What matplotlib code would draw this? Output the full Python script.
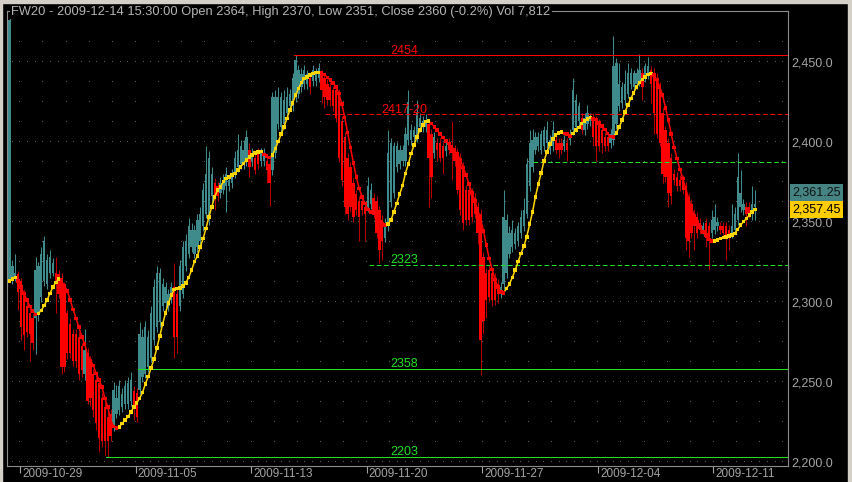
import matplotlib
matplotlib.use('Agg')
import matplotlib.pyplot as plt
import matplotlib.transforms as mtransforms
from matplotlib.collections import LineCollection
from matplotlib.patches import Rectangle
import numpy as np

plt.rcParams['font.family'] = ['Liberation Sans', 'DejaVu Sans']

# hourly bars, 8 per session (first session partial)
opens = [2314, 2313, 2315, 2317,
         2313, 2305, 2297, 2293, 2290, 2290, 2292, 2303,
         2313, 2311, 2318, 2318, 2318, 2317, 2315, 2309,
         2293, 2286, 2280, 2280, 2278, 2272, 2255, 2268,
         2263, 2255, 2251, 2249, 2240, 2234, 2228, 2230,
         2222, 2230, 2232, 2234, 2236, 2236, 2238, 2244,
         2243, 2245, 2253, 2255, 2259, 2265, 2276, 2284,
         2287, 2297, 2299, 2297, 2301, 2309, 2305, 2297,
         2305, 2322, 2330, 2334, 2330, 2334, 2338, 2347,
         2355, 2351, 2366, 2374, 2372, 2368, 2370, 2372,
         2372, 2374, 2380, 2384, 2386, 2386, 2388, 2395,
         2388, 2390, 2393, 2388, 2388, 2388, 2386, 2382,
         2393, 2411, 2409, 2411, 2418, 2422, 2422, 2428,
         2430, 2434, 2436, 2436, 2440, 2438, 2438, 2440,
         2442, 2440, 2436, 2434, 2432, 2432, 2430, 2413,
         2403, 2390, 2384, 2374, 2367, 2363, 2363, 2359,
         2359, 2361, 2365, 2363, 2357, 2351, 2340, 2347,
         2362, 2368, 2384, 2386, 2388, 2388, 2401, 2401,
         2403, 2403, 2409, 2409, 2409, 2411, 2405, 2393,
         2399, 2399, 2397, 2394, 2399, 2397, 2395, 2393,
         2390, 2384, 2370, 2370, 2368, 2365, 2359, 2355,
         2328, 2318, 2320, 2318, 2315, 2311, 2305, 2311,
         2318, 2330, 2334, 2336, 2338, 2343, 2347, 2355,
         2372, 2384, 2395, 2397, 2395, 2397, 2399, 2395,
         2397, 2401, 2399, 2399, 2397, 2399, 2401, 2407,
         2409, 2413, 2415, 2407, 2411, 2413, 2415, 2413,
         2411, 2407, 2403, 2403, 2399, 2401, 2411, 2422,
         2424, 2426, 2430, 2436, 2434, 2436, 2438, 2443,
         2440, 2442, 2445, 2443, 2440, 2434, 2418, 2407,
         2399, 2390, 2380, 2378, 2376, 2376, 2372, 2365,
         2361, 2355, 2353, 2349, 2345, 2349, 2347, 2343,
         2345, 2347, 2347, 2347, 2347, 2345, 2343, 2345,
         2351, 2359, 2357, 2359, 2359, 2357, 2359]

highs = [2480, 2326, 2330, 2319,
         2315, 2307, 2299, 2296, 2292, 2328, 2325, 2334,
         2341, 2330, 2332, 2327, 2328, 2320, 2318, 2312,
         2295, 2289, 2283, 2283, 2281, 2274, 2283, 2271,
         2266, 2258, 2254, 2252, 2243, 2237, 2231, 2233,
         2250, 2248, 2251, 2246, 2251, 2253, 2256, 2247,
         2246, 2287, 2283, 2288, 2282, 2297, 2314, 2322,
         2321, 2315, 2312, 2308, 2312, 2324, 2308, 2326,
         2338, 2342, 2352, 2349, 2348, 2355, 2359, 2374,
         2397, 2394, 2384, 2377, 2375, 2378, 2380, 2384,
         2379, 2383, 2394, 2405, 2401, 2401, 2407, 2399,
         2396, 2393, 2396, 2396, 2396, 2391, 2389, 2431,
         2432, 2434, 2431, 2432, 2434, 2433, 2443, 2454,
         2448, 2446, 2448, 2445, 2443, 2448, 2446, 2449,
         2445, 2443, 2439, 2437, 2435, 2435, 2433, 2416,
         2406, 2393, 2387, 2377, 2370, 2366, 2366, 2362,
         2378, 2374, 2368, 2366, 2360, 2354, 2352, 2407,
         2402, 2400, 2400, 2398, 2398, 2409, 2432, 2411,
         2410, 2426, 2418, 2416, 2417, 2414, 2408, 2406,
         2402, 2402, 2400, 2400, 2402, 2413, 2398, 2396,
         2393, 2387, 2373, 2373, 2371, 2368, 2362, 2358,
         2331, 2321, 2323, 2321, 2318, 2314, 2312, 2370,
         2355, 2347, 2351, 2346, 2350, 2357, 2365, 2390,
         2407, 2408, 2406, 2406, 2407, 2410, 2413, 2404,
         2413, 2404, 2402, 2402, 2404, 2402, 2408, 2440,
         2430, 2425, 2418, 2418, 2423, 2418, 2418, 2416,
         2414, 2410, 2406, 2406, 2408, 2466, 2452, 2449,
         2437, 2445, 2449, 2446, 2445, 2446, 2455, 2446,
         2449, 2453, 2447, 2446, 2443, 2437, 2421, 2410,
         2402, 2393, 2383, 2381, 2379, 2379, 2375, 2368,
         2364, 2358, 2356, 2352, 2350, 2352, 2350, 2357,
         2361, 2353, 2350, 2350, 2350, 2348, 2361, 2359,
         2393, 2382, 2364, 2362, 2362, 2372, 2370]

lows = [2312, 2311, 2313, 2295,
        2276, 2270, 2278, 2263, 2270, 2267, 2288, 2300,
        2310, 2308, 2315, 2316, 2293, 2302, 2255, 2256,
        2264, 2265, 2260, 2259, 2251, 2253, 2251, 2236,
        2235, 2228, 2220, 2206, 2209, 2204, 2203, 2213,
        2219, 2227, 2229, 2231, 2233, 2233, 2235, 2226,
        2225, 2242, 2250, 2252, 2256, 2262, 2273, 2281,
        2284, 2294, 2296, 2294, 2299, 2265, 2268, 2294,
        2302, 2319, 2327, 2331, 2327, 2331, 2335, 2344,
        2352, 2348, 2362, 2357, 2363, 2365, 2367, 2356,
        2369, 2371, 2377, 2381, 2383, 2383, 2385, 2378,
        2385, 2380, 2383, 2385, 2385, 2374, 2360, 2379,
        2390, 2408, 2406, 2408, 2415, 2419, 2419, 2425,
        2427, 2431, 2433, 2433, 2430, 2435, 2435, 2437,
        2424, 2421, 2423, 2422, 2419, 2412, 2387, 2372,
        2355, 2351, 2356, 2350, 2354, 2338, 2354, 2338,
        2356, 2358, 2352, 2340, 2324, 2326, 2337, 2344,
        2359, 2365, 2381, 2383, 2385, 2385, 2398, 2398,
        2400, 2400, 2406, 2406, 2406, 2359, 2365, 2390,
        2388, 2387, 2380, 2391, 2392, 2376, 2385, 2367,
        2354, 2345, 2348, 2348, 2350, 2352, 2336, 2254,
        2280, 2290, 2300, 2297, 2298, 2299, 2302, 2308,
        2315, 2327, 2331, 2333, 2335, 2340, 2344, 2352,
        2369, 2381, 2392, 2394, 2392, 2394, 2396, 2392,
        2394, 2392, 2390, 2392, 2394, 2388, 2398, 2404,
        2406, 2410, 2405, 2404, 2408, 2410, 2397, 2388,
        2394, 2393, 2394, 2394, 2396, 2398, 2408, 2419,
        2421, 2423, 2427, 2433, 2431, 2433, 2435, 2426,
        2437, 2439, 2424, 2405, 2402, 2397, 2374, 2375,
        2359, 2361, 2373, 2369, 2369, 2367, 2332, 2328,
        2340, 2332, 2340, 2342, 2342, 2334, 2320, 2340,
        2342, 2344, 2342, 2340, 2326, 2332, 2340, 2342,
        2348, 2356, 2354, 2347, 2352, 2351, 2351]

closes = [2476, 2322, 2318, 2306,
          2284, 2279, 2281, 2280, 2274, 2320, 2322, 2330,
          2338, 2326, 2328, 2324, 2313, 2305, 2259, 2259,
          2268, 2268, 2263, 2263, 2255, 2257, 2270, 2238,
          2240, 2232, 2224, 2215, 2213, 2213, 2213, 2216,
          2245, 2240, 2247, 2242, 2247, 2249, 2251, 2234,
          2228, 2280, 2278, 2284, 2278, 2293, 2309, 2318,
          2318, 2311, 2309, 2305, 2309, 2278, 2278, 2322,
          2334, 2338, 2347, 2345, 2345, 2351, 2355, 2370,
          2380, 2390, 2380, 2366, 2366, 2374, 2376, 2380,
          2376, 2380, 2390, 2395, 2397, 2395, 2403, 2384,
          2393, 2382, 2386, 2393, 2393, 2382, 2374, 2428,
          2428, 2428, 2428, 2426, 2428, 2430, 2440, 2451,
          2445, 2442, 2445, 2442, 2434, 2445, 2442, 2446,
          2432, 2428, 2426, 2426, 2422, 2415, 2390, 2376,
          2359, 2355, 2359, 2353, 2357, 2353, 2357, 2355,
          2372, 2370, 2355, 2343, 2332, 2338, 2349, 2393,
          2399, 2397, 2397, 2395, 2395, 2405, 2425, 2407,
          2407, 2418, 2415, 2413, 2413, 2390, 2378, 2403,
          2395, 2390, 2390, 2397, 2395, 2393, 2388, 2370,
          2357, 2349, 2351, 2351, 2353, 2355, 2343, 2276,
          2288, 2301, 2303, 2301, 2301, 2305, 2309, 2353,
          2351, 2343, 2345, 2343, 2347, 2353, 2357, 2386,
          2399, 2401, 2403, 2403, 2405, 2407, 2407, 2401,
          2407, 2395, 2395, 2395, 2401, 2395, 2405, 2432,
          2426, 2422, 2407, 2415, 2418, 2415, 2403, 2397,
          2397, 2399, 2397, 2397, 2405, 2447, 2449, 2436,
          2434, 2436, 2443, 2443, 2443, 2443, 2445, 2434,
          2447, 2447, 2436, 2418, 2405, 2399, 2380, 2378,
          2368, 2366, 2376, 2372, 2372, 2370, 2340, 2338,
          2343, 2347, 2343, 2345, 2347, 2340, 2338, 2351,
          2353, 2350, 2345, 2343, 2340, 2340, 2347, 2355,
          2378, 2368, 2361, 2355, 2355, 2361, 2361]

# moving average as plotted on the chart
ma = [2313, 2314, 2315, 2313,
      2309, 2305, 2301, 2297, 2294, 2292, 2292.5, 2294.5,
      2297.5, 2301, 2305, 2309, 2312, 2314, 2312.5, 2310,
      2306.5, 2301, 2295, 2289.5, 2284, 2278, 2273.5, 2267,
      2263, 2260, 2255, 2251, 2246.5, 2239.5, 2234, 2226,
      2222, 2221, 2221.7, 2223.8, 2225.9, 2228, 2231, 2234,
      2236.5, 2239.5, 2243, 2248.5, 2253, 2258.5, 2264, 2271,
      2278.5, 2286, 2293, 2299, 2304, 2307.5, 2308.2, 2308.4,
      2309.6, 2311.7, 2315, 2319.6, 2324.9, 2328.5, 2334, 2339.4,
      2345.7, 2353, 2359.2, 2365.5, 2369.6, 2371.7, 2374.9, 2376.9,
      2378, 2379, 2380.1, 2382.1, 2384.2, 2386.3, 2388.4, 2390.5,
      2391.5, 2393, 2393.6, 2393.7, 2392, 2390.9, 2390.1, 2391.5,
      2395.7, 2399.9, 2404.7, 2409.2, 2414.4, 2419.6, 2424.2, 2429,
      2433.2, 2436.9, 2439.4, 2440.5, 2441.5, 2442.6, 2443.2, 2443.3,
      2443, 2441.9, 2440.1, 2438.4, 2436.7, 2434.2, 2430, 2423.4,
      2415, 2405.7, 2396.3, 2386.7, 2378, 2370.7, 2365.5, 2361.3,
      2357.6, 2355.9, 2355.1, 2353, 2350.9, 2348.8, 2347.8, 2348.5,
      2350.9, 2356.1, 2361.3, 2367.1, 2372.4, 2380.1, 2385.9, 2392.6,
      2397.8, 2403, 2407.2, 2410.3, 2412.4, 2413, 2411.3, 2409.2,
      2407.2, 2404.7, 2402.6, 2400.3, 2398.8, 2396.7, 2394.6, 2392.1,
      2388.4, 2383.8, 2379, 2373.4, 2368, 2363, 2357.1, 2351.9,
      2344.2, 2335.3, 2326.9, 2320.1, 2313.8, 2309.2, 2306.1, 2305.5,
      2308.2, 2310.9, 2315.1, 2319.6, 2324.9, 2330.1, 2334.6, 2340.5,
      2348.4, 2356.1, 2365.5, 2373.4, 2380.5, 2388, 2393.6, 2398.4,
      2401.5, 2404, 2405.5, 2406.1, 2405.1, 2404.7, 2403.6, 2405.1,
      2407.2, 2408.8, 2411.3, 2413, 2414, 2415.1, 2414.2, 2413.8,
      2411.7, 2409.6, 2407.6, 2405.1, 2403.2, 2403, 2405.5, 2409.2,
      2413.4, 2418.6, 2422.8, 2426.9, 2430.5, 2434.2, 2436.9, 2438.8,
      2440.5, 2441.9, 2442.6, 2441.5, 2438.8, 2434.2, 2429, 2421.1,
      2413.4, 2404.7, 2396.3, 2389.4, 2382.6, 2376.9, 2370.7, 2364.4,
      2358.2, 2353.4, 2349.9, 2346.7, 2343.6, 2341.5, 2338.8, 2337.8,
      2338, 2338.4, 2339.4, 2340.1, 2340.5, 2340.8, 2341.5, 2342.6,
      2345.1, 2347.8, 2349.9, 2351.9, 2354, 2355.9, 2357.5]

date_labels = ['2009-10-29', '2009-11-05', '2009-11-13', '2009-11-20',
               '2009-11-27', '2009-12-04', '2009-12-11']
date_bars = [4, 44, 84, 124, 164, 204, 244]

# horizontal levels drawn on the chart
levels = [2454, 2417.2, 2387, 2323, 2258, 2203]
level_labels = ['2454', '2417-20', '', '2323', '2358', '2203']
level_from = [98.4, 109.2, 181.1, 124.4, 44.5, 33.4]

title = 'FW20 - 2009-12-14 15:30:00 Open 2364, High 2370, Low 2351, Close 2360 (-0.2%) Vol 7,812'
last_close = 2361.25
last_ma = 2357.45

W, H = 852, 482
teal = '#3f8b8b'
red = '#ff0000'
yellow = '#ffd700'
green = '#22e022'
gray = '#a4a4a4'

fig = plt.figure(figsize=(W / 100, H / 100), dpi=100)
fig.patch.set_facecolor('black')
ax = fig.add_axes([7 / W, 16 / H, 781 / W, 455 / H])
ax.set_facecolor('black')
ax.set_xlim(-0.87, 269.4)
ax.set_ylim(2197.2, 2481.6)

# dotted grid
cols = np.arange(3.4, 269, 8)
rows = np.arange(2200, 2463, 12.5)
gx, gy = np.meshgrid(cols, rows)
ax.plot(gx.ravel(), gy.ravel(), ',', color='#5c5c5c', zorder=0)
dense = np.arange(3.4 - 8, 269, 8 / 3)
dx, dy = np.meshgrid(dense, np.arange(2200, 2451, 50))
ax.plot(dx.ravel(), dy.ravel(), ',', color='#5c5c5c', zorder=0)

# candles
x = np.arange(len(closes))
o = np.array(opens, float)
c = np.array(closes, float)
hi = np.array(highs, float)
lo = np.array(lows, float)
up = c >= o
ax.vlines(x[up], lo[up], hi[up], color=teal, lw=0.75, zorder=2)
ax.vlines(x[~up], lo[~up], hi[~up], color='#b80000', lw=0.75, zorder=2)
bot = np.minimum(o, c)
hgt = np.maximum(np.abs(c - o), 0.7)
ax.bar(x[up], hgt[up], bottom=bot[up], width=0.8, color=teal, linewidth=0, zorder=2)
ax.bar(x[~up], hgt[~up], bottom=bot[~up], width=0.8, color=red, linewidth=0, zorder=2)

# levels
styles = ['-', '--', '--', '--', '-', '-']
colors = [red, red, green, green, green, green]
for lv, lab, x0, ls, col in zip(levels, level_labels, level_from, styles, colors):
    line, = ax.plot([x0, 269.4], [lv, lv], color=col, lw=0.75, zorder=3)
    if ls == '--':
        line.set_dashes((4.5, 2.5))
    if lab:
        ax.text(136.5, lv + 0.8, lab, color=col, fontsize=9, ha='center', va='baseline', zorder=3)

# moving average: yellow when rising, red when falling
m = np.array(ma)
rise = np.diff(m) >= 0
seg_cols = [yellow if r else red for r in rise]
segs = [[(i, m[i]), (i + 1, m[i + 1])] for i in range(len(m) - 1)]
ax.add_collection(LineCollection(segs, colors=seg_cols, linewidths=1.1, zorder=4))
pt_cols = [yellow] + seg_cols
ax.scatter(x, m, marker='s', s=6.5, c=pt_cols, linewidths=0, zorder=5)

# axes styling
for s in ax.spines.values():
    s.set_color('#8c8c8c')
    s.set_linewidth(0.8)
ax.yaxis.tick_right()
yt = np.arange(2200, 2451, 50)
ax.set_yticks(yt)
ax.set_yticklabels([f'{v:,.1f}' for v in yt])
ax.tick_params(axis='y', length=0, pad=2.5, labelcolor=gray, labelsize=9)
ax.set_xticks(np.array(date_bars) - 0.4)
ax.set_xticklabels([])
ax.tick_params(axis='x', direction='out', length=5, width=0.8, color=gray)
for b, lab in zip(date_bars, date_labels):
    ax.annotate(lab, xy=(b - 0.4, 0), xycoords=('data', 'axes fraction'),
                xytext=(1.5, -1.5), textcoords='offset points', color=gray,
                fontsize=8.5, ha='left', va='top', annotation_clip=False)

# title over the top frame line
fig.text(11 / W, 1 - 11.5 / H, title, color='#b4b4b4', fontsize=9.3, ha='left', va='center',
         bbox=dict(facecolor='black', edgecolor='none', pad=1.0))

# last value boxes on the price scale
tr = mtransforms.blended_transform_factory(fig.transFigure, ax.transData)
bh = 17 / 1.6
fig.add_artist(Rectangle((790 / W, last_ma - bh / 2), 53 / W, bh, transform=tr,
                         facecolor='#ffcc00', edgecolor='none', zorder=5))
fig.add_artist(Rectangle((790 / W, last_ma + bh / 2), 53 / W, bh, transform=tr,
                         facecolor='#468484', edgecolor='none', zorder=5))
fig.text(816.5 / W, last_ma, f'{last_ma:,.2f}', transform=tr, color='black',
         fontsize=9, ha='center', va='center', zorder=6)
fig.text(816.5 / W, last_ma + bh, f'{last_close:,.2f}', transform=tr, color='#111111',
         fontsize=9, ha='center', va='center', zorder=6)

# window border
bc = '#d4d0c8'
fig.add_artist(Rectangle((0, 1 - 3 / H), 1, 3 / H, transform=fig.transFigure, color=bc, zorder=7))
fig.add_artist(Rectangle((0, 0), 2 / W, 1, transform=fig.transFigure, color=bc, zorder=7))
fig.add_artist(Rectangle((848 / W, 0), 4 / W, 1, transform=fig.transFigure, color=bc, zorder=7))

fig.savefig('out.png', dpi=100, facecolor=fig.get_facecolor())
